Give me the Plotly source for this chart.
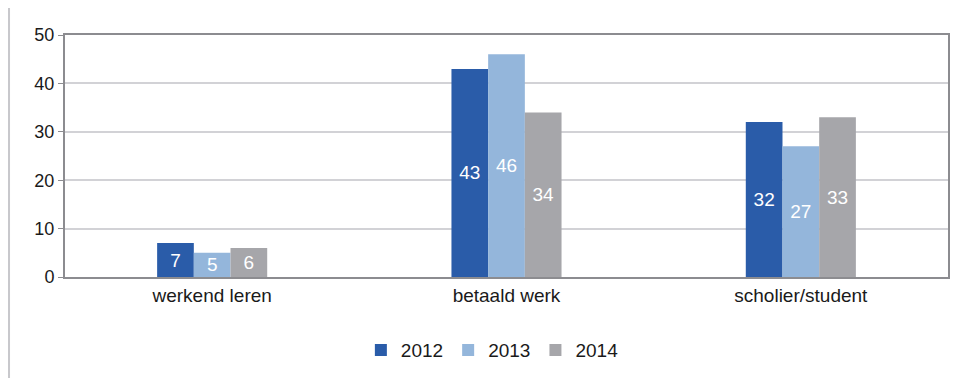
import plotly.graph_objects as go

categories = ['werkend leren', 'betaald werk', 'scholier/student']
years = ['2012', '2013', '2014']
values_2012 = [7, 43, 32]
values_2013 = [5, 46, 27]
values_2014 = [6, 34, 33]

series = [values_2012, values_2013, values_2014]
colors = ['#2A5CA9', '#94B6DB', '#A6A6AA']

fig = go.Figure()
for year, vals, col in zip(years, series, colors):
    fig.add_trace(go.Bar(
        x=categories, y=vals, name=year,
        marker=dict(color=col, line=dict(width=0)),
        text=vals, textposition='inside', insidetextanchor='middle', textangle=0,
        textfont=dict(color='white', size=19, family='Liberation Sans'),
        constraintext='none',
    ))

# the page adds an 8px body margin, so margins are shifted by that much
fig.update_layout(
    width=968, height=378,
    margin=dict(l=57, r=28, t=27, b=109, autoexpand=False),
    barmode='group', bargap=0.626, bargroupgap=0,
    plot_bgcolor='white', paper_bgcolor='white',
    font=dict(family='Liberation Sans', size=19, color='#1a1a1a'),
    showlegend=True,
    legend=dict(orientation='h', x=0.484, xanchor='center', y=-0.302, yanchor='middle',
                font=dict(size=19), itemwidth=30, traceorder='normal'),
    shapes=[
        dict(type='line', xref='paper', yref='paper', x0=-0.0634, x1=1.05, y0=1.124, y1=1.124,
             line=dict(color='#c8c8cc', width=2)),
        dict(type='line', xref='paper', yref='paper', x0=-0.0634, x1=-0.0634, y0=1.124, y1=-0.45,
             line=dict(color='#c8c8cc', width=2)),
    ],
)
fig.update_yaxes(range=[0, 50], dtick=10, showgrid=True, gridcolor='#d2d2d6', gridwidth=1.5,
                 showline=True, linecolor='#8c8c90', linewidth=2, mirror=True, automargin=False,
                 ticks='outside', ticklen=5, tickcolor='#8c8c90', zeroline=False,
                 tickfont=dict(size=18))
fig.update_xaxes(showline=True, linecolor='#8c8c90', linewidth=2, mirror=True, ticks='',
                 automargin=False, tickfont=dict(size=19))

fig.write_html("out.html")
